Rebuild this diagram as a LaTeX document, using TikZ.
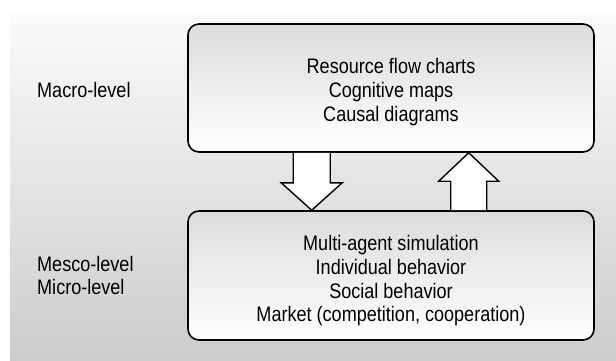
\documentclass[tikz,border=0pt]{standalone}
\usepackage{fontspec}
\setmainfont{Liberation Sans}[FakeStretch=0.86]
\usetikzlibrary{calc}
\begin{document}
\begin{tikzpicture}[x=1pt,y=1pt,
  box/.style={draw=black, line width=1.6pt, rounded corners=11pt,
    top color=black!14, bottom color=white,
    minimum width=406pt, minimum height=128pt, inner sep=0pt},
  txt/.style={font=\fontsize{21pt}{23.8pt}\selectfont, align=center, inner sep=0pt},
  lbl/.style={font=\fontsize{21pt}{23pt}\selectfont, anchor=base west, inner sep=0pt},
  fatarrow/.style={draw=black, line width=1.4pt, fill=white, line join=miter}]
\useasboundingbox (0,0) rectangle (616,-361);
\fill[top color=black!2, bottom color=black!20] (10,-15) rectangle (616,-361);
% boxes
\node[box] (top) at (391,-88) {};
\node[box, minimum height=129pt] (bot) at (391,-275.5) {};
% texts
\node[txt] (toptext) at (391,-92.3) {Resource flow charts\\Cognitive maps\\Causal diagrams};
\node[txt] (bottext) at (391,-280.7) {Multi-agent simulation\\Individual behavior\\Social behavior\\Market (competition, cooperation)};
\node[lbl] (macro) at (37,-97) {Macro-level};
\node[lbl] (mesco) at (37,-271) {Mesco-level};
\node[lbl] (micro) at (37,-294) {Micro-level};
% down arrow
\coordinate (dA) at ($(top.south west)+(124.5,0)$);
\coordinate (dT) at ($(bot.north west)+(124.5,0)$);
\draw[fatarrow] ($(dA)+(-18.5,0)$) -- ($(dA)+(-18.5,-30)$) -- ($(dA)+(-30.5,-30)$)
  -- (dT) -- ($(dA)+(30.5,-30)$) -- ($(dA)+(18.5,-30)$) -- ($(dA)+(18.5,0)$);
% up arrow
\coordinate (uA) at ($(bot.north west)+(281.5,0)$);
\coordinate (uT) at ($(top.south west)+(281.5,0)$);
\draw[fatarrow] ($(uA)+(-18,0)$) -- ($(uA)+(-18,29)$) -- ($(uA)+(-30,29)$)
  -- (uT) -- ($(uA)+(30,29)$) -- ($(uA)+(18,29)$) -- ($(uA)+(18,0)$);
\end{tikzpicture}
\end{document}
